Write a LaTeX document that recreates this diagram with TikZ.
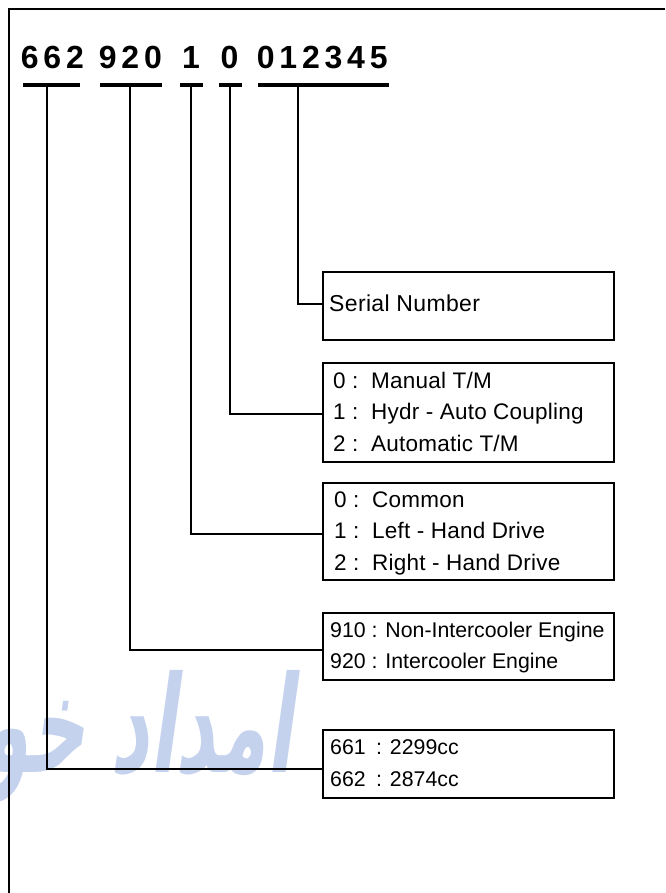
\documentclass[tikz,border=0pt]{standalone}
\usepackage{fontspec}
\setmainfont{Liberation Sans}
\newfontfamily\arabicfont[Script=Arabic]{DejaVu Sans}
\newfontfamily\bignum[LetterSpace=15]{Liberation Sans Bold}
\newfontfamily\bignumc{Liberation Sans Bold}
\TeXXeTstate=1
\definecolor{wm}{RGB}{197,210,238}
\begin{document}
\begin{tikzpicture}[x=1pt,y=-1pt,
  frame/.style={line width=2pt},
  bar/.style={line width=4.5pt},
  conn/.style={line width=2pt},
  infobox/.style={draw, line width=2.2pt, anchor=north west, minimum width=291pt, inner sep=0pt},
  num/.style={font=\bignum\fontsize{32}{32}\selectfont, anchor=base west, inner sep=0pt},
  numc/.style={font=\bignumc\fontsize{32}{32}\selectfont, anchor=base, inner sep=0pt},
  lbl/.style={font=\fontsize{21.3}{21.3}\selectfont, anchor=base west, inner sep=0pt},
  lbls/.style={font=\fontsize{22.5}{22.5}\selectfont\addfontfeature{LetterSpace=1}, anchor=base west, inner sep=0pt},
]
\useasboundingbox (0,0) rectangle (665,893);
% watermark
\begin{scope}
\clip (0,0) rectangle (665,893);
\begin{scope}[shift={(292,772)}]
\node[transform shape, xscale=0.63, yscale=1.12, xslant=0.25, anchor=base east, inner sep=0pt, text=wm,
  font=\arabicfont\bfseries\fontsize{120}{120}\selectfont] (wmark) at (0,0) {\beginR امداد خودرو\endR};
\end{scope}
\end{scope}
% frame
\draw[frame] (665,9.5) -- (8.5,9.5) -- (8.5,893);
% number groups
\node[num] (n1) at (20.7,68.5) {662};
\node[num] (n2) at (98.7,68.5) {920};
\node[numc] (n3) at (191,68.5) {1};
\node[numc] (n4) at (229.5,68.5) {0};
\node[num] (n5) at (256.7,68.5) {012345};
% bars
\draw[bar] (23,85) -- (80,85);
\draw[bar] (100,85) -- (162,85);
\draw[bar] (180,85) -- (203,85);
\draw[bar] (219,85) -- (242,85);
\draw[bar] (258,85) -- (389,85);
\coordinate (t1) at (46.7,85);
\coordinate (t2) at (130,85);
\coordinate (t3) at (190.7,85);
\coordinate (t4) at (230,85);
\coordinate (t5) at (297.7,85);
% boxes
\node[infobox, minimum height=68pt] (serial) at (322,271) {};
\node[infobox, minimum height=99pt] (tm) at (322,362) {};
\node[infobox, minimum height=97pt] (drive) at (322,482) {};
\node[infobox, minimum height=67pt] (eng) at (322,612) {};
\node[infobox, minimum height=68pt] (disp) at (322,729) {};
% texts
\node[lbls, font=\fontsize{23}{23}\selectfont\addfontfeature{LetterSpace=1.5}] (s1) at (329,311) {Serial Number};
\node[lbls] (a1) at (333,388) {\makebox[38pt][l]{0 :}Manual T/M};
\node[lbls] (a2) at (333,419.5) {\makebox[38pt][l]{1 :}Hydr - Auto Coupling};
\node[lbls] (a3) at (333,451) {\makebox[38pt][l]{2 :}Automatic T/M};
\node[lbls] (b1) at (334,507) {\makebox[38pt][l]{0 :}Common};
\node[lbls] (b2) at (334,538.5) {\makebox[38pt][l]{1 :}Left - Hand Drive};
\node[lbls] (b3) at (334,570) {\makebox[38pt][l]{2 :}Right - Hand Drive};
\node[lbl] (c1) at (330,637) {910 : Non-Intercooler Engine};
\node[lbl] (c2) at (330,668) {920 : Intercooler Engine};
\node[lbl] (d1) at (330,754) {\makebox[46pt][l]{661}: 2299cc};
\node[lbl] (d2) at (330,786) {\makebox[46pt][l]{662}: 2874cc};
% connectors
\draw[conn] (t5) |- ([yshift=2pt]serial.west);
\draw[conn] (t4) |- ([yshift=-1.5pt]tm.west);
\draw[conn] (t3) |- ([yshift=-2.5pt]drive.west);
\draw[conn] (t2) |- ([yshift=-3.5pt]eng.west);
\draw[conn] (t1) |- ([yshift=-4.5pt]disp.west);
\end{tikzpicture}
\end{document}
